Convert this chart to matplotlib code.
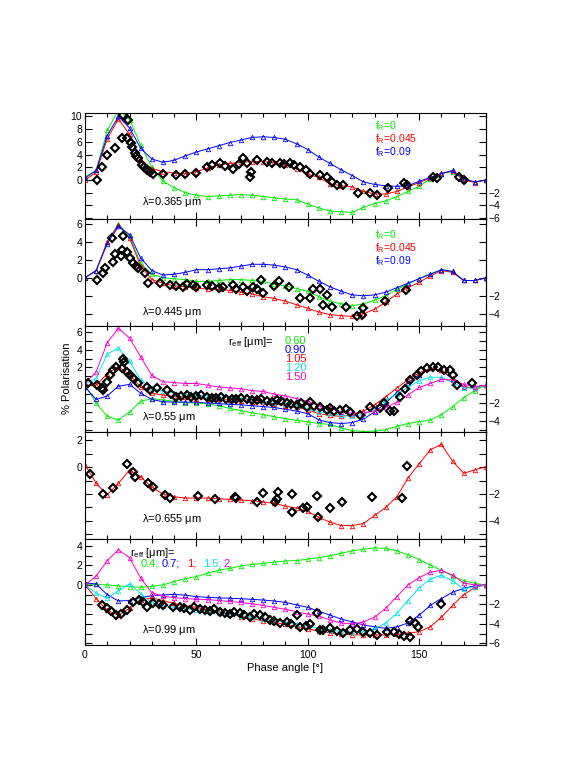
import matplotlib
matplotlib.use('Agg')
import matplotlib.pyplot as plt
from matplotlib.ticker import MultipleLocator, FuncFormatter

plt.rcParams['font.family'] = ['Liberation Sans', 'DejaVu Sans']
plt.rcParams['mathtext.default'] = 'regular'

GREEN = '#00ee00'
RED = '#ff0000'
BLUE = '#0000ff'
CYAN = '#00e5ee'
MAGENTA = '#ff00cc'

# model phase grid (deg)
phase = list(range(0, 181, 5))

# --- lambda = 0.365 um, f_R = 0 / 0.045 / 0.09
p1_fr0 = [0.5, 1.5, 7.8, 11.0, 9.5, 5.5, 2.0, -0.2, -1.2, -2.0, -2.4, -2.6, -2.5, -2.4, -2.3, -2.4, -2.6, -2.8, -3.0,
          -3.1, -3.8, -4.4, -4.9, -5.0, -5.1, -4.3, -3.7, -3.3, -2.6, -1.8, -1.0, 0.2, 1.0, 1.3, 0.0, -0.3, 0.0]
p1_fr045 = [0.0, 1.2, 6.5, 9.6, 7.2, 3.2, 1.8, 1.3, 1.1, 1.0, 1.3, 1.9, 2.4, 2.6, 2.8, 2.9, 2.9, 2.8, 2.4,
            1.8, 0.9, 0.4, -0.6, -0.9, -1.1, -1.8, -2.2, -2.2, -1.8, -1.1, -0.4, 0.3, 1.1, 1.4, 0.0, -0.4, 0.0]
p1_fr09 = [0.3, 1.5, 7.0, 10.0, 8.2, 5.0, 3.3, 2.8, 3.1, 3.8, 4.4, 4.9, 5.4, 5.9, 6.3, 6.7, 6.8, 6.7, 6.4,
           5.7, 4.8, 3.6, 2.6, 1.6, 0.7, -0.3, -0.7, -0.9, -1.0, -0.9, -0.2, 0.4, 1.0, 1.5, 0.2, -0.3, 0.0]
p1_obs_phase = [5.2, 7.5, 9.7, 13.5, 16.5, 18.7, 17.2, 19.5, 21.0, 22.4, 24.0, 25.4, 27.7, 41.0, 50.0, 54.6, 60.6,
                66.5, 71.0, 72.6, 74.0, 74.5, 77.0, 81.5, 87.5, 92.0, 96.5, 101.0, 105.5, 108.5, 113.0, 116.0,
                122.6, 128.0, 131.0, 136.0, 143.0, 144.4, 156.0, 158.0, 168.0, 170.0,
                20.5, 23.0, 26.5, 29.0, 30.5, 35.0, 45.0, 57.0, 63.0, 69.0, 84.0, 89.5, 94.0, 99.0, 111.0]
p1_obs_value = [0.0, 2.0, 3.9, 5.0, 6.6, 6.6, 10.2, 9.4, 5.2, 4.2, 3.4, 2.4, 1.6, 0.8, 1.1, 2.1, 2.6,
                1.8, 3.4, 2.6, 0.5, 1.3, 3.1, 2.9, 2.6, 2.6, 2.0, 1.0, 0.8, 0.5, -0.8, -0.8,
                -2.1, -2.1, -2.4, -1.3, -0.5, -0.8, 0.5, 0.3, 0.5, 0.0,
                5.8, 3.8, 2.0, 1.2, 1.0, 0.9, 1.0, 2.3, 2.2, 2.5, 2.7, 2.5, 2.3, 1.6, -0.3]

# --- lambda = 0.445 um
p2_fr0 = [0.0, 0.8, 4.0, 6.0, 4.6, 1.6, 0.4, 0.0, -0.1, -0.2, -0.4, -0.4, -0.3, -0.2, -0.2, -0.3, -0.4, -0.7, -0.9,
          -1.2, -1.5, -2.1, -2.6, -2.9, -3.1, -2.9, -2.5, -2.0, -1.3, -0.7, -0.1, 0.4, 0.9, 0.7, -0.3, -0.3, 0.0]
p2_fr045 = [0.0, 0.8, 4.0, 5.9, 4.4, 1.3, -0.2, -0.6, -0.9, -1.0, -1.15, -1.25, -1.3, -1.4, -1.6, -1.8, -2.1, -2.3,
            -2.6, -3.0, -3.4, -3.8, -4.1, -4.2, -4.3, -4.0, -3.5, -2.7, -1.8, -1.1, -0.5, 0.2, 0.8, 0.6, -0.3, -0.3, 0.0]
p2_fr09 = [0.0, 0.8, 3.8, 5.7, 4.8, 2.2, 0.8, 0.3, 0.4, 0.6, 0.9, 0.9, 1.0, 1.1, 1.3, 1.5, 1.5, 1.4, 1.2,
           0.9, 0.3, -0.4, -1.0, -1.5, -1.9, -2.0, -1.9, -1.6, -1.1, -0.6, -0.1, 0.4, 0.9, 0.7, -0.3, -0.3, 0.0]
p2_obs_phase = [5.2, 8.2, 9.0, 12.0, 12.7, 13.5, 16.0, 16.5, 17.2, 18.7, 20.0, 21.7, 23.0, 24.0, 26.9, 28.4, 33.6,
                44.0, 48.6, 50.0, 54.6, 62.0, 66.5, 68.0, 71.0, 72.6, 75.5, 77.0, 79.0, 80.0, 87.0, 91.5, 96.5,
                101.0, 102.5, 105.5, 107.0, 108.5, 110.8, 117.0, 122.0, 124.4, 125.0, 134.6, 144.0,
                38.0, 41.0, 46.0, 57.0, 60.0, 85.0]
p2_obs_value = [-0.2, 0.5, 1.1, 4.4, 1.8, 2.6, 2.4, 3.1, 4.6, 2.9, 2.2, 1.6, 1.3, 1.1, 0.5, -0.6, -0.6,
                -1.0, -0.8, -1.0, -0.8, -1.0, -0.8, -1.3, -1.0, -1.5, -1.0, -1.3, -0.2, -1.7, -0.4, -1.0, -2.2,
                -2.2, -1.3, -1.3, -3.0, -1.9, -3.2, -3.3, -4.3, -4.1, -3.4, -2.6, -1.4,
                -0.8, -0.9, -0.7, -0.9, -1.1, -0.9]

# --- lambda = 0.55 um, r_eff = 0.60 / 0.90 / 1.05 / 1.20 / 1.50
p3_r060 = [0.0, -2.0, -3.5, -3.9, -3.0, -1.8, -1.5, -1.65, -1.8, -1.95, -2.0, -2.1, -2.3, -2.6, -2.85, -3.1, -3.3,
           -3.55, -3.75, -3.95, -4.1, -4.3, -4.4, -4.8, -5.1, -5.2, -5.15, -5.0, -4.6, -4.3, -4.1, -3.9, -3.3,
           -2.4, -1.4, -0.6, 0.0]
p3_r090 = [-0.2, -1.6, -1.2, -0.1, 0.1, -0.9, -1.6, -1.85, -1.9, -1.9, -1.9, -2.0, -2.05, -2.15, -2.2, -2.3, -2.4,
           -2.5, -2.7, -2.9, -3.2, -3.9, -4.2, -4.3, -4.2, -3.8, -3.0, -2.0, -0.8, 0.3, 1.2, 1.9, 1.7, 0.7, -0.2,
           -0.3, 0.0]
p3_r105 = [0.0, 0.0, 1.3, 2.1, 1.2, -0.2, -0.9, -1.1, -1.25, -1.35, -1.5, -1.55, -1.6, -1.65, -1.75, -1.85, -1.9,
           -2.1, -2.3, -2.5, -2.75, -3.2, -3.4, -3.5, -3.3, -2.9, -2.2, -1.3, -0.3, 0.6, 1.4, 1.9, 1.7, 0.8, -0.2,
           -0.3, 0.0]
p3_r120 = [0.1, 0.8, 3.5, 4.2, 2.7, 0.6, -0.3, -0.7, -0.85, -1.0, -1.1, -1.2, -1.35, -1.4, -1.5, -1.6, -1.8, -2.0,
           -2.1, -2.3, -2.6, -3.0, -3.1, -3.4, -3.5, -3.3, -2.6, -1.7, -1.0, -0.2, 0.5, 0.9, 0.9, 0.3, -0.3, -0.3,
           0.0]
p3_r150 = [0.2, 1.5, 4.8, 6.4, 5.3, 3.2, 1.1, 0.4, 0.3, 0.2, 0.2, 0.0, -0.2, -0.3, -0.4, -0.6, -0.7, -1.0, -1.2,
           -1.5, -1.8, -2.3, -2.6, -3.0, -3.15, -3.1, -2.9, -2.5, -1.9, -1.1, -0.25, 0.2, 0.65, 0.6, 0.1, -0.15, 0.0]
p3_obs_phase = [1.5, 5.2, 7.5, 8.2, 9.7, 11.2, 12.7, 14.0, 16.5, 17.0, 17.7, 18.7, 20.0, 21.7, 24.0, 27.7, 32.2,
                36.7, 41.0, 45.6, 50.0, 54.6, 59.0, 63.5, 68.0, 72.6, 77.0, 81.5, 86.0, 90.5, 95.0, 99.5, 101.0,
                105.5, 108.5, 110.0, 114.5, 119.0, 123.5, 128.0, 132.5, 134.0, 137.0, 138.5, 141.5, 146.0, 149.0,
                153.5, 156.4, 161.0, 164.0, 165.4, 167.0, 173.7,
                29.0, 38.5, 43.0, 47.5, 52.0, 57.0, 61.0, 66.0, 70.0, 75.0, 79.0, 84.0, 88.0, 92.5, 97.0, 103.0,
                112.0, 117.0, 143.5, 151.0, 158.5]
p3_obs_value = [0.2, 0.0, -0.3, -0.5, 0.4, 1.15, 1.7, 2.1, 1.9, 3.0, 2.65, 1.5, 1.15, 0.8, 0.2, -0.15, -0.35,
                -0.55, -1.3, -1.1, -1.2, -1.3, -1.4, -1.5, -1.55, -1.5, -1.65, -1.8, -1.65, -2.0, -2.2, -2.4, -1.9,
                -2.45, -2.8, -2.6, -2.8, -3.05, -3.4, -2.4, -2.6, -2.0, -2.9, -2.9, -1.3, 0.6, 1.15,
                1.95, 2.1, 1.7, 1.7, 1.15, 0.0, 0.2,
                -0.5, -1.0, -1.2, -1.3, -1.1, -1.45, -1.3, -1.6, -1.4, -1.7, -1.6, -1.9, -1.8, -2.1, -2.0, -2.3,
                -2.9, -2.7, -0.4, 1.6, 2.0]

# --- lambda = 0.655 um
p4_model = [0.2, -1.2, -2.05, -1.2, -0.2, -0.7, -1.5, -2.0, -2.2, -2.3, -2.3, -2.3, -2.35, -2.4, -2.45, -2.5, -2.6,
            -2.7, -2.9, -3.05, -3.3, -3.75, -4.1, -4.35, -4.35, -4.2, -3.6, -3.0, -2.2, -0.8, 0.25, 1.3, 1.7,
            0.45, -0.45, -0.2, 0.05]
p4_obs_phase = [2.2, 8.2, 12.7, 18.7, 21.7, 22.4, 28.4, 30.4, 35.9, 38.0, 50.8, 58.4, 67.3, 68.0, 77.0, 80.0,
                85.3, 86.0, 86.8, 92.8, 92.8, 98.0, 99.5, 104.0, 104.7, 110.0, 115.2, 128.7, 142.2, 144.4]
p4_obs_value = [-0.52, -1.99, -1.57, 0.25, -0.33, -0.7, -1.2, -1.45, -2.07, -2.32, -2.14, -2.37, -2.19, -2.32,
                -2.57, -1.94, -2.57, -2.39, -1.82, -2.02, -3.31, -3.06, -2.94, -2.12, -3.68, -3.06, -2.57, -2.19,
                -2.27, 0.1]

# --- lambda = 0.99 um, r_eff = 0.4 / 0.7 / 1 / 1.5 / 2
p5_r04 = [0.0, 0.05, 0.0, -0.1, -0.17, -0.25, -0.15, 0.0, 0.35, 0.65, 0.85, 1.2, 1.5, 1.7, 1.95, 2.1, 2.2, 2.35,
          2.45, 2.5, 2.65, 2.8, 3.0, 3.25, 3.5, 3.65, 3.8, 3.75, 3.5, 3.1, 2.6, 2.05, 1.5, 0.9, 0.45, 0.15, 0.0]
p5_r07 = [0.2, 0.1, -1.0, -1.65, -1.6, -1.3, -1.1, -1.03, -0.97, -1.05, -1.2, -1.27, -1.33, -1.37, -1.42, -1.48,
          -1.55, -1.65, -1.8, -2.05, -2.3, -2.7, -3.1, -3.5, -3.8, -4.1, -4.3, -4.45, -4.3, -3.9, -3.1, -2.1, -1.4,
          -0.75, -0.35, -0.1, 0.0]
p5_r1 = [0.0, -1.4, -2.6, -3.1, -2.4, -1.5, -1.35, -1.6, -1.9, -2.15, -2.3, -2.55, -2.8, -3.0, -3.25, -3.45, -3.7,
         -3.85, -4.05, -4.25, -4.5, -4.75, -4.9, -5.05, -5.12, -5.13, -5.13, -5.12, -5.08, -4.95, -4.8, -4.3, -3.3,
         -2.1, -1.0, -0.25, 0.0]
p5_r15 = [0.0, -0.85, -1.35, -0.6, 0.1, -0.9, -1.85, -2.15, -2.3, -2.45, -2.55, -2.7, -2.85, -3.0, -3.15, -3.3,
          -3.5, -3.65, -3.8, -4.0, -4.2, -4.45, -4.6, -4.8, -4.85, -4.8, -4.5, -3.9, -2.9, -1.6, -0.3, 0.6, 1.0,
          0.4, -0.4, -0.2, 0.0]
p5_r2 = [0.0, 0.9, 2.5, 3.6, 2.8, 0.7, -0.8, -1.15, -1.3, -1.4, -1.47, -1.5, -1.6, -1.7, -1.8, -1.95, -2.1, -2.3,
         -2.5, -2.75, -3.0, -3.2, -3.6, -3.9, -4.0, -3.8, -3.3, -2.4, -1.2, 0.0, 0.75, 1.3, 1.5, 1.0, 0.2, 0.0, 0.0]
p5_obs_phase = [7.5, 9.7, 14.0, 18.7, 21.7, 24.4, 27.7, 30.4, 35.0, 39.4, 42.6, 47.0, 51.6, 56.0, 60.6, 65.0,
                69.6, 74.0, 78.5, 83.0, 87.5, 90.5, 95.0, 96.5, 101.0, 104.0, 105.5, 107.0, 110.0, 116.0, 122.0,
                125.0, 131.0, 135.5, 138.5, 143.0, 146.0, 146.0, 148.0, 149.7, 160.0,
                11.5, 16.0, 26.0, 33.0, 44.5, 49.0, 54.0, 58.0, 63.0, 67.0, 71.5, 76.0, 81.0, 85.0, 92.5, 99.0,
                113.0, 119.0, 128.0, 141.0]
p5_obs_value = [-2.05, -2.39, -3.08, -2.56, -1.71, -1.54, -2.22, -1.88, -2.05, -2.22, -2.22, -2.56, -2.46, -2.67,
                -2.74, -3.0, -2.9, -3.25, -3.08, -3.59, -3.93, -3.76, -3.08, -4.27, -4.03, -2.85, -4.62, -4.62,
                -4.44, -4.96, -4.5, -4.79, -5.13, -4.85, -4.79, -5.2, -5.3, -3.69, -3.93, -4.27, -1.94,
                -2.7, -3.0, -1.8, -2.0, -2.4, -2.3, -2.6, -2.5, -2.9, -2.8, -3.1, -3.0, -3.3, -3.7, -4.0, -4.2,
                -4.7, -4.6, -4.9, -5.0]

panels = [
    dict(models=[(p1_fr0, GREEN), (p1_fr045, RED), (p1_fr09, BLUE)],
         obs=(p1_obs_phase, p1_obs_value), ylim=(-6.2, 10.55), step=2,
         label=r'$\lambda$=0.365 $\mu$m', label_y=0.166),
    dict(models=[(p2_fr0, GREEN), (p2_fr045, RED), (p2_fr09, BLUE)],
         obs=(p2_obs_phase, p2_obs_value), ylim=(-5.33, 6.49), step=2,
         label=r'$\lambda$=0.445 $\mu$m', label_y=0.13),
    dict(models=[(p3_r060, GREEN), (p3_r090, BLUE), (p3_r105, RED), (p3_r120, CYAN), (p3_r150, MAGENTA)],
         obs=(p3_obs_phase, p3_obs_value), ylim=(-5.27, 6.69), step=1,
         label=r'$\lambda$=0.55 $\mu$m', label_y=0.146),
    dict(models=[(p4_model, RED)],
         obs=(p4_obs_phase, p4_obs_value), ylim=(-5.32, 2.62), step=1,
         label=r'$\lambda$=0.655 $\mu$m', label_y=0.184),
    dict(models=[(p5_r04, GREEN), (p5_r07, BLUE), (p5_r1, RED), (p5_r15, CYAN), (p5_r2, MAGENTA)],
         obs=(p5_obs_phase, p5_obs_value), ylim=(-6.15, 4.76), step=1,
         label=r'$\lambda$=0.99 $\mu$m', label_y=0.141),
]


def left_fmt(v, pos):
    n = int(round(v))
    return '' if n < 0 or n % 2 else str(n)


def right_fmt(v, pos):
    n = int(round(v))
    return '\u2212' + str(-n) if (n < 0 and n % 2 == 0) else ''


fig = plt.figure(figsize=(5.72, 7.62), dpi=100)
ax_left, ax_width = 0.1486, 0.701
ax_top, ax_h = 0.8517, 0.1396
fs = 7.5

axes = []
for i, p in enumerate(panels):
    ax = fig.add_axes([ax_left, ax_top - (i + 1) * ax_h, ax_width, ax_h])
    for vals, col in p['models']:
        ax.plot(phase, vals, color=col, lw=0.7, marker='^', ms=3.2, mfc='none', mew=0.6)
    ax.plot(p['obs'][0], p['obs'][1], ls='none', marker='D', ms=4.2, mfc='none', mec='black', mew=1.5, zorder=4)
    ax.set_xlim(0, 180)
    ax.set_ylim(*p['ylim'])
    ax.xaxis.set_major_locator(MultipleLocator(50))
    ax.xaxis.set_minor_locator(MultipleLocator(10))
    ax.tick_params(axis='x', which='both', direction='in', top=True, bottom=True, labelsize=fs,
                   labelbottom=(i == len(panels) - 1))
    ax.tick_params(axis='x', which='major', length=5, width=0.8)
    ax.tick_params(axis='x', which='minor', length=3, width=0.8)
    ax.yaxis.set_major_locator(MultipleLocator(p['step']))
    ax.yaxis.set_major_formatter(FuncFormatter(left_fmt))
    ax.tick_params(axis='y', direction='in', left=True, right=False, length=5, width=0.8, labelsize=fs, pad=2)
    sec = ax.secondary_yaxis('right')
    sec.yaxis.set_major_locator(MultipleLocator(p['step']))
    sec.yaxis.set_major_formatter(FuncFormatter(right_fmt))
    sec.tick_params(axis='y', direction='in', length=5, width=0.8, labelsize=fs, pad=2)
    for s in ax.spines.values():
        s.set_linewidth(0.8)
    ax.text(0.141, p['label_y'], p['label'], transform=ax.transAxes, fontsize=8, va='center', ha='left')
    axes.append(ax)

# legends for f_R panels
for ax, ys in [(axes[0], (0.875, 0.755, 0.635)), (axes[1], (0.85, 0.73, 0.61))]:
    for txt, col, y in zip(['f$_{R}$=0', 'f$_{R}$=0.045', 'f$_{R}$=0.09'], [GREEN, RED, BLUE], ys):
        ax.text(0.723, y, txt, transform=ax.transAxes, color=col, fontsize=7.5, va='center', ha='left')

# r_eff legend, 0.55 um
axes[2].text(0.357, 0.85, r'r$_{eff}$ [$\mu$m]=', transform=axes[2].transAxes, fontsize=8, va='center')
for txt, col, y in zip(['0.60', '0.90', '1.05', '1.20', '1.50'], [GREEN, BLUE, RED, CYAN, MAGENTA],
                       [0.86, 0.772, 0.688, 0.606, 0.522]):
    axes[2].text(0.499, y, txt, transform=axes[2].transAxes, color=col, fontsize=8, va='center')

# r_eff legend, 0.99 um
axes[4].text(0.112, 0.862, r'r$_{eff}$ [$\mu$m]=', transform=axes[4].transAxes, fontsize=8, va='center')
for txt, col, x in zip(['0.4;', '0.7;', '1;', '1.5;', '2'], [GREEN, BLUE, RED, CYAN, MAGENTA],
                       [0.139, 0.191, 0.254, 0.2935, 0.345]):
    axes[4].text(x, 0.761, txt, transform=axes[4].transAxes, color=col, fontsize=8, va='center')

axes[-1].set_xlabel('Phase angle [\u00b0]', fontsize=8, labelpad=2)
fig.text(0.117, 0.503, '% Polarisation', rotation=90, fontsize=8, va='center', ha='center')

fig.savefig('out.png', dpi=100)
